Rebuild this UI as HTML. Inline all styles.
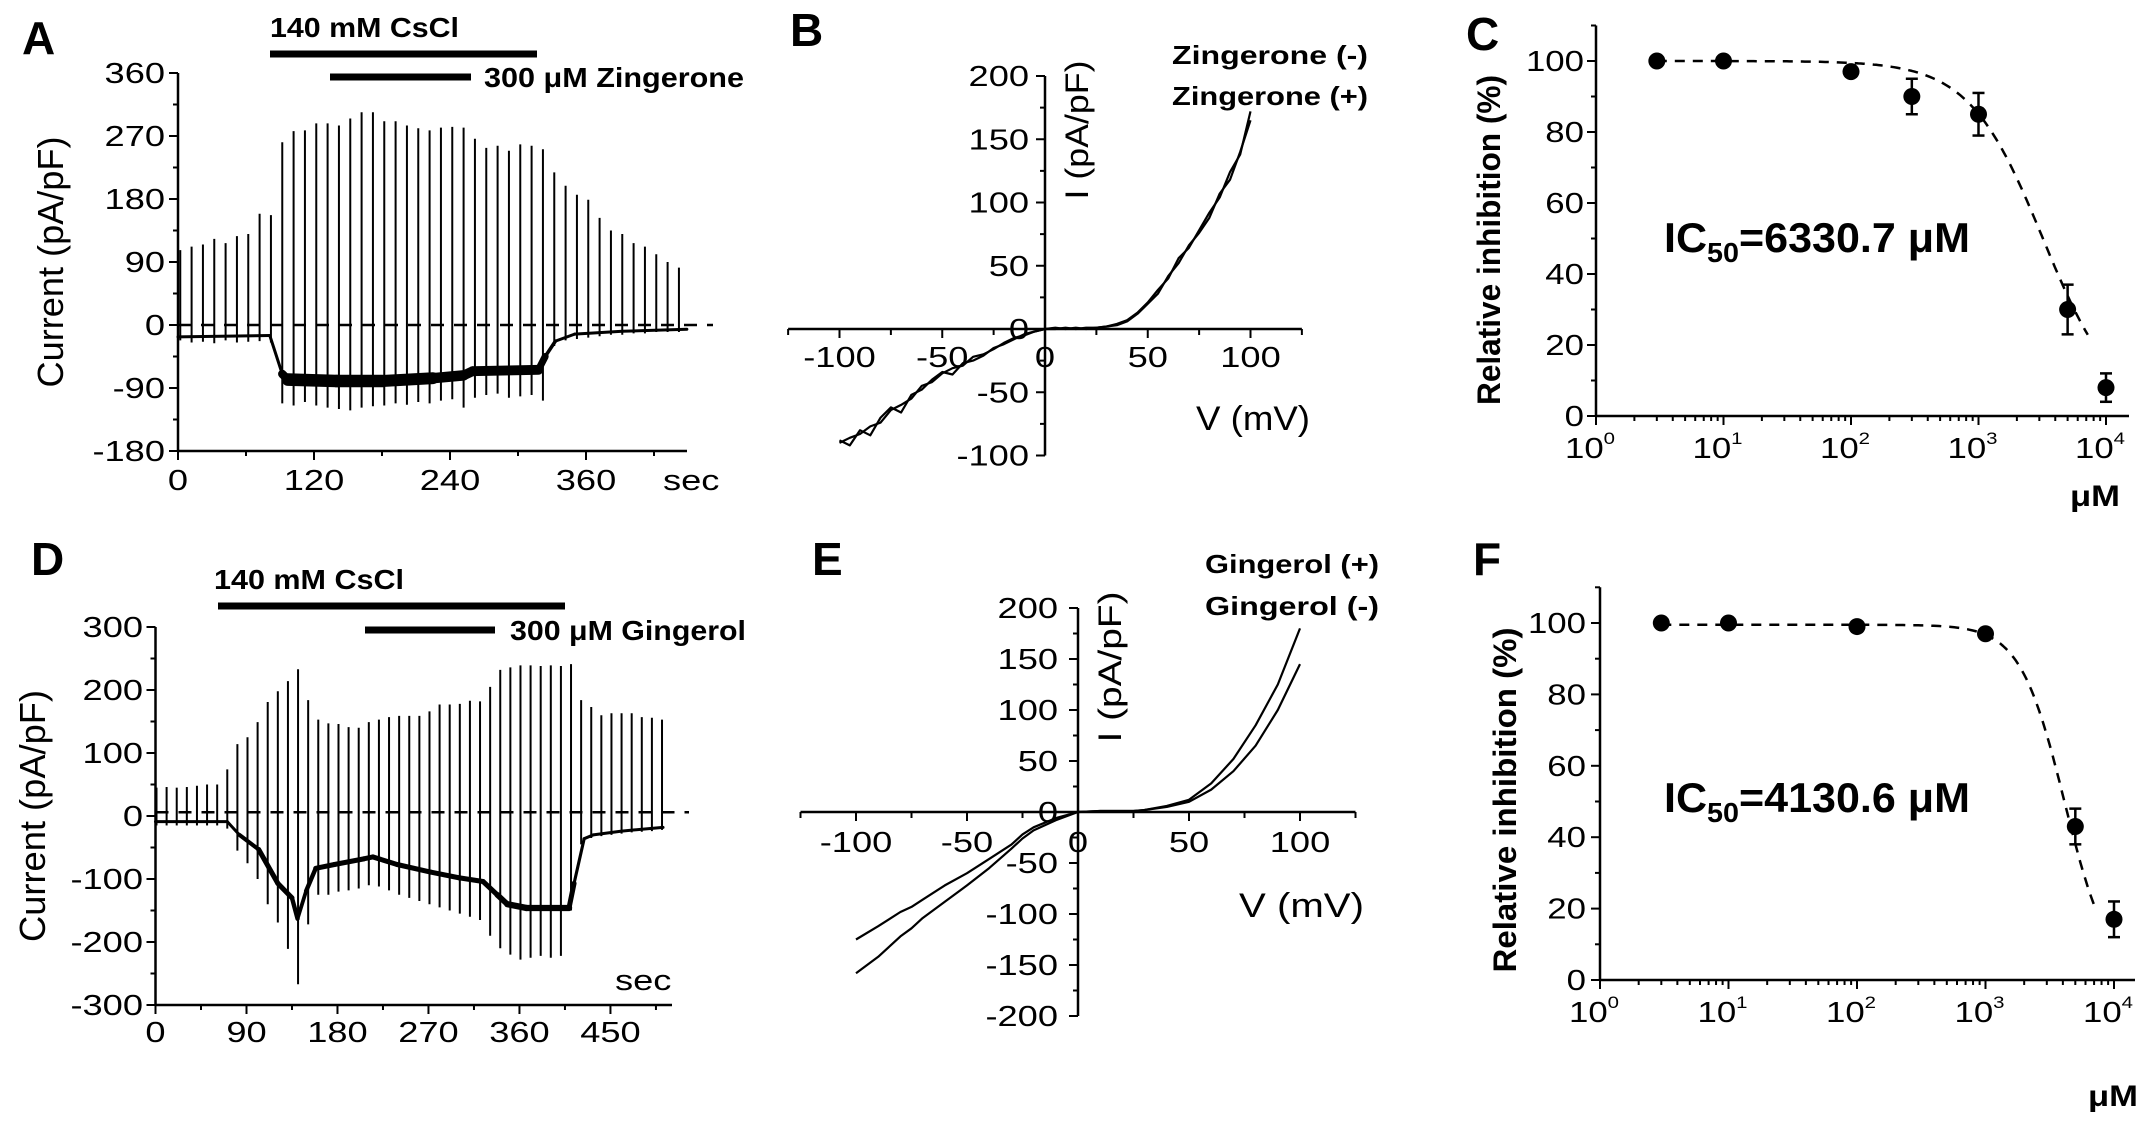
<!DOCTYPE html>
<html><head><meta charset="utf-8"><style>
html,body{margin:0;padding:0;background:#fff;}
svg{display:block;font-family:"Liberation Sans",Arial,sans-serif;}
</style></head><body>
<svg id="fig" width="2150" height="1125" viewBox="0 0 2150 1125" xmlns="http://www.w3.org/2000/svg"></svg>
<script>
// ---------- Panel A data ----------
const aSpikeTimes=[2,12,22,32,42,52,62,72,82,92,102,112,122,132,142,152,162,172,182,192,202,212,222,232,242,252,262,272,282,292,302,312,322,332,342,352,362,372,382,392,402,412,422,432,442];
const aSpikeMax=[107,112,115,123,117,127,130,159,157,261,277,278,288,288,285,295,304,304,291,291,285,281,278,282,283,282,266,253,256,249,258,256,251,218,199,186,179,153,135,130,117,112,101,90,82];
const aSpikeMin=[-22,-25,-24,-26,-22,-25,-24,-23,-25,-112,-115,-110,-115,-118,-120,-122,-118,-116,-115,-112,-114,-110,-112,-108,-106,-118,-104,-100,-98,-104,-102,-100,-108,-30,-22,-20,-18,-16,-14,-14,-12,-12,-10,-10,-10];
const aBaseT=[0,81,92,97,140,180,225,252,260,318,324,333,350,392,449];
const aBaseV=[-17,-15,-70,-78,-80,-80,-76,-72,-66,-64,-45,-23,-13,-9,-6];
const aBand=[2,2,6,18,18,18,16,14,14,14,6,4,2,2,2];
const aXTicks=[0,120,240,360];
const aYTicks=[360,270,180,90,0,-90,-180];
// ---------- Panel D data ----------
const dSpikeTimes=[1,11,21,31,41,51,61,71,81,91,101,111,121,131,141,151,161,171,181,191,201,211,221,231,241,251,261,271,281,291,301,311,321,331,341,351,361,371,381,391,401,411,421,431,441,451,461,471,481,491,501];
const dSpikeMax=[45,46,45,46,48,50,50,74,114,125,149,181,198,214,233,184,153,147,146,141,140,149,153,157,159,159,159,166,177,177,178,183,182,205,232,236,239,239,238,239,238,241,184,173,160,163,163,163,157,156,153];
const dSpikeMin=[-15,-15,-15,-15,-15,-15,-15,-20,-55,-75,-100,-140,-169,-211,-267,-172,-125,-125,-120,-118,-115,-110,-112,-118,-125,-130,-135,-140,-145,-150,-155,-160,-165,-190,-210,-220,-228,-225,-222,-225,-222,-150,-45,-35,-32,-30,-28,-26,-25,-24,-22];
const dBaseT=[0,71,83,102,121,135,140.5,149,158.5,177,206,215,239,272,300,324,338,348,367,409,414,424,433,461,502];
const dBaseV=[-9,-9,-30,-53,-107,-130,-163,-119,-83,-77,-68,-65,-77,-89,-98,-104,-125,-140,-146,-146,-107,-36,-30,-24,-18];
const dBand=[2,2,5,8,8,8,6,6,8,8,8,8,8,8,8,8,8,10,10,10,6,4,4,4,4];
const dXTicks=[0,90,180,270,360,450];
const dYTicks=[300,200,100,0,-100,-200,-300];
// ---------- Panel B data ----------
const bVolt=[-100,-95,-90,-85,-80,-75,-70,-65,-60,-55,-50,-45,-40,-35,-30,-25,-20,-15,-10,-5,0,5,10,15,20,25,30,35,40,45,50,55,60,65,70,75,80,85,90,95,100];
const bMinus=[-88,-92,-80,-84,-70,-62,-66,-52,-48,-40,-34,-36,-27,-25,-21,-15,-12,-8,-4,-2,0,0,1,0,1,1,2,3,6,12,20,28,42,52,66,76,88,107,118,140,165];
const bPlus=[-90,-86,-83,-77,-74,-64,-60,-55,-45,-42,-35,-31,-29,-22,-20,-16,-11,-7,-5,-2,0,1,0,1,0,1,2,4,7,13,21,31,40,56,64,78,92,104,124,138,172];
const bXTicks=[-100,-50,0,50,100];
const bYTicks=[200,150,100,50,0,-50,-100];
// ---------- Panel E data ----------
const eVolt=[-100,-90,-80,-75,-70,-60,-50,-40,-30,-25,-20,-10,0,10,20,25,30,40,50,60,70,80,90,100];
const ePlus=[-158,-142,-122,-114,-104,-88,-72,-55,-36,-26,-18,-8,0,1,1,1,2,6,12,28,52,85,125,180];
const eMinus=[-125,-112,-98,-93,-86,-72,-60,-46,-32,-22,-15,-6,0,1,1,1,2,5,10,22,40,65,100,145];
const eXTicks=[-100,-50,0,50,100];
const eYTicks=[200,150,100,50,0,-50,-100,-150,-200];
// ---------- Panel C data ----------
const cConc=[3,10,100,300,1000,5000,10000];
const cInhib=[100,100,97,90,85,30,8];
const cErr=[0,0,1,5,6,7,4];
const cFitIC50=3200, cFitHill=1.5, cFitTop=100;
// ---------- Panel F data ----------
const fConc=[3,10,100,1000,5000,10000];
const fInhib=[100,100,99,97,43,17];
const fErr=[0,0,0,1,5,5];
const fFitIC50=4130, fFitHill=2.5, fFitTop=99.5;
const logExps=[0,1,2,3,4];

const svg=document.getElementById('fig');
const NS='http://www.w3.org/2000/svg';
function add(tag,attrs,name,parent){
  const el=document.createElementNS(NS,tag);
  for(const k in attrs) el.setAttribute(k,attrs[k]);
  
  
  (parent||svg).appendChild(el);
  return el;
}
function line(x1,y1,x2,y2,w,name,extra){
  const a={x1:x1,y1:y1,x2:x2,y2:y2,stroke:'#000','stroke-width':w};
  if(extra) for(const k in extra) a[k]=extra[k];
  return add('line',a,name);
}
function txt(x,y,s,size,name,o){
  o=o||{};
  const a={'font-size':size,fill:'#000','text-anchor':o.anchor||'start'};
  if(o.bold) a['font-weight']='bold';
  let tr='translate('+x+','+y+')';
  if(o.rot) tr+=' rotate('+o.rot+')';
  if(o.sx) tr+=' scale('+o.sx+',1)';
  a.transform=tr; a.x=0; a.y=0;
  if(o.len){a.textLength=o.len;a.lengthAdjust='spacingAndGlyphs';}
  const t=add('text',a,name);
  t.textContent=s;
  return t;
}
function poly(pts,w,name,extra){
  const a={points:pts.map(p=>p[0].toFixed(1)+','+p[1].toFixed(1)).join(' '),fill:'none',stroke:'#000','stroke-width':w,'stroke-linejoin':'round'};
  if(extra) for(const k in extra) a[k]=extra[k];
  return add('polyline',a,name);
}

// ---------- generic trace panel ----------
function tracePanel(P){
  const X=P.x, Y=P.y;
  P.times.forEach((t,i)=>{
    line(X(t),Y(P.max[i]),X(t),Y(P.min[i]),2,'current-spike');
  });
  for(let i=0;i<P.bt.length-1;i++){
    const w=Math.max(3,(P.band[i]+P.band[i+1])/2*P.yscale);
    line(X(P.bt[i]),Y(P.bv[i]),X(P.bt[i+1]),Y(P.bv[i+1]),w,'baseline-current',{'stroke-linecap':'round'});
  }
  line(P.x0,Y(P.zeroV),P.dashEnd,Y(P.zeroV),2.5,'zero-line',{'stroke-dasharray':'13 10'});
  line(P.x0,Y(P.yMax),P.x0,Y(P.yMin)+1,2.5,'y-axis');
  line(P.x0-1,Y(P.yMin),P.xEnd,Y(P.yMin),2.5,'x-axis');
  P.yTicks.forEach(v=>{
    line(P.x0-9,Y(v),P.x0,Y(v),2,'y-tick');
    txt(P.ylabX,Y(v)+10,String(v),29,'y-tick-label',{anchor:'end',sx:1.25});
  });
  for(let i=0;i<P.yTicks.length-1;i++){
    const m=(P.yTicks[i]+P.yTicks[i+1])/2;
    line(P.x0-5,Y(m),P.x0,Y(m),2,'y-minor-tick');
  }
  P.xTicks.forEach(t=>{
    line(X(t),Y(P.yMin),X(t),Y(P.yMin)+9,2,'x-tick');
    txt(X(t),P.xlabY,String(t),29,'x-tick-label',{anchor:'middle',sx:1.25});
  });
  const step=P.xTicks[1]-P.xTicks[0];
  for(let t=step/2;X(t)<P.xEnd;t+=step) line(X(t),Y(P.yMin),X(t),Y(P.yMin)+5,2,'x-minor-tick');
}

// Panel A
tracePanel({x:t=>178+t*408/360,y:v=>325-v*252/360,yscale:252/360,times:aSpikeTimes,max:aSpikeMax,min:aSpikeMin,
  bt:aBaseT,bv:aBaseV,band:aBand,zeroV:0,x0:178,dashEnd:713,xEnd:687,yMax:360,yMin:-180,
  yTicks:aYTicks,xTicks:aXTicks,ylabX:165,xlabY:490});
txt(22,54,'A',46,'panel-label-a',{bold:true});
txt(663,490,'sec',29,'x-axis-unit',{sx:1.25});
txt(63,262,'Current (pA/pF)',36,'y-axis-title',{anchor:'middle',rot:-90,len:251});
line(270,54,537,54,7,'cscl-bar');
txt(270,37,'140 mM CsCl',28,'cscl-label',{bold:true,len:189});
line(330,77,471,77,7,'zingerone-bar');
txt(484,87,'300 μM Zingerone',28,'zingerone-label',{bold:true,len:260});

// Panel D
tracePanel({x:t=>155.5+t*1.011,y:v=>816-v*0.63,yscale:0.63,times:dSpikeTimes,max:dSpikeMax,min:dSpikeMin,
  bt:dBaseT,bv:dBaseV,band:dBand,zeroV:6,x0:155.5,dashEnd:689,xEnd:672,yMax:300,yMin:-300,
  yTicks:dYTicks,xTicks:dXTicks,ylabX:143,xlabY:1042});
txt(31,575,'D',46,'panel-label-d',{bold:true});
txt(615,990,'sec',29,'x-axis-unit',{sx:1.25});
txt(45,816,'Current (pA/pF)',36,'y-axis-title',{anchor:'middle',rot:-90,len:252});
line(218,606,565,606,7,'cscl-bar');
txt(214,589,'140 mM CsCl',28,'cscl-label',{bold:true,len:190});
line(365,630,495,630,7,'gingerol-bar');
txt(510,640,'300 μM Gingerol',28,'gingerol-label',{bold:true,len:236});

// ---------- IV panels ----------
function ivPanel(P){
  const X=P.x,Y=P.y;
  line(X(-125),Y(0),X(125),Y(0),2.5,'x-axis');
  line(X(0),Y(P.yMax),X(0),Y(P.yMin),2.5,'y-axis');
  for(let v=-125;v<=125;v+=25){
    const major=(v%50===0);
    line(X(v),Y(0),X(v),Y(0)+(major?9:6),2,major?'x-tick':'x-minor-tick');
  }
  P.xTicks.forEach(v=>txt(X(v),P.xlabY,String(v),29,'x-tick-label',{anchor:'middle',sx:1.25}));
  P.yTicks.forEach(v=>{
    line(X(0)-9,Y(v),X(0),Y(v),2,'y-tick');
    if(v!==P.yMin) line(X(0)-5,Y(v-25),X(0),Y(v-25),2,'y-minor-tick');
    txt(P.ylabX,Y(v)+10,String(v),29,'y-tick-label',{anchor:'end',sx:1.25});
  });
  P.series.forEach((s,k)=>poly(P.volt.map((v,i)=>[X(v),Y(s[i])]),2.2,P.names[k]));
}
ivPanel({x:v=>1045+v*2.055,y:i=>329-i*1.265,yMax:200,yMin:-100,xTicks:bXTicks,yTicks:bYTicks,xlabY:367,ylabX:1029,
  volt:bVolt,series:[bMinus,bPlus],names:['trace-zingerone-minus','trace-zingerone-plus']});
txt(790,46,'B',46,'panel-label-b',{bold:true});
txt(1088,130,'I (pA/pF)',32,'y-axis-title',{anchor:'middle',rot:-90,len:139});
txt(1196,430,'V (mV)',34,'x-axis-title',{len:114});
txt(1172,64,'Zingerone (-)',26,'legend-zingerone-minus',{bold:true,len:196});
txt(1172,105,'Zingerone (+)',26,'legend-zingerone-plus',{bold:true,len:196});

ivPanel({x:v=>1078+v*2.22,y:i=>812-i*1.02,yMax:200,yMin:-200,xTicks:eXTicks,yTicks:eYTicks,xlabY:852,ylabX:1058,
  volt:eVolt,series:[ePlus,eMinus],names:['trace-gingerol-plus','trace-gingerol-minus']});
txt(812,575,'E',46,'panel-label-e',{bold:true});
txt(1121,667,'I (pA/pF)',32,'y-axis-title',{anchor:'middle',rot:-90,len:151});
txt(1239,917,'V (mV)',34,'x-axis-title',{len:125});
txt(1205,573,'Gingerol (+)',26,'legend-gingerol-plus',{bold:true,len:174});
txt(1205,615,'Gingerol (-)',26,'legend-gingerol-minus',{bold:true,len:174});

// ---------- dose response panels ----------
function drPanel(P){
  const X=P.x,Y=P.y;
  line(X(1)-1,Y(0),P.xEnd,Y(0),2.5,'x-axis');
  line(X(1),Y(0)+1,X(1),Y(110),2.5,'y-axis');
  logExps.forEach(e=>{
    const c=Math.pow(10,e);
    line(X(c),Y(0),X(c),Y(0)+9,2,'x-tick');
    const t=txt(X(c)-6,P.xlabY,'10',29,'x-tick-label',{anchor:'middle',sx:1.2});
    const sup=document.createElementNS(NS,'tspan');
    
    
    sup.setAttribute('font-size','17');
    sup.setAttribute('dy','-14');
    sup.textContent=String(e);
    t.appendChild(sup);
    if(e<4) for(let m=2;m<=9;m++) line(X(m*c),Y(0),X(m*c),Y(0)+5,2,'x-minor-tick');
  });
  for(let v=0;v<=100;v+=20){
    line(X(1)-9,Y(v),X(1),Y(v),2,'y-tick');
    line(X(1)-5,Y(v+10),X(1),Y(v+10),2,'y-minor-tick');
    txt(P.ylabX,Y(v)+10,String(v),29,'y-tick-label',{anchor:'end',sx:1.2});
  }
  const pts=[];
  for(let lg=Math.log10(P.conc[0]);lg<=Math.log10(P.fitEnd);lg+=0.02){
    const c=Math.pow(10,lg);
    pts.push([X(c),Y(P.top/(1+Math.pow(c/P.ic50,P.hill)))]);
  }
  poly(pts,2.5,'fit-curve',{'stroke-dasharray':'10 8'});
  P.conc.forEach((c,i)=>{
    if(P.err[i]>0){
      line(X(c),Y(P.val[i]-P.err[i]),X(c),Y(P.val[i]+P.err[i]),2.5,'error-bar');
      line(X(c)-6,Y(P.val[i]+P.err[i]),X(c)+6,Y(P.val[i]+P.err[i]),2.5,'error-cap');
      line(X(c)-6,Y(P.val[i]-P.err[i]),X(c)+6,Y(P.val[i]-P.err[i]),2.5,'error-cap');
    }
    add('circle',{cx:X(c),cy:Y(P.val[i]),r:8.5,fill:'#000'},'data-point');
  });
}
drPanel({x:c=>1596+Math.log10(c)*127.5,y:p=>416-p*3.55,xEnd:2129,xlabY:458,ylabX:1584,
  conc:cConc,val:cInhib,err:cErr,ic50:cFitIC50,hill:cFitHill,top:cFitTop,fitEnd:7300});
txt(1466,50,'C',46,'panel-label-c',{bold:true});
txt(1500,240,'Relative inhibition (%)',32,'y-axis-title',{anchor:'middle',rot:-90,bold:true,len:330});
txt(2070,506,'μM',30,'x-axis-title',{bold:true,len:50});
(function(){
  const t=txt(1664,252,'IC',42,'ic50-annotation',{bold:true});
  const s=document.createElementNS(NS,'tspan');
  
  s.setAttribute('font-size','28');s.setAttribute('dy','10');s.textContent='50';t.appendChild(s);
  const r=document.createElementNS(NS,'tspan');
  
  r.setAttribute('dy','-10');r.textContent='=6330.7 μM';t.appendChild(r);
  t.setAttribute('textLength','306');t.setAttribute('lengthAdjust','spacingAndGlyphs');
})();

drPanel({x:c=>1600+Math.log10(c)*128.5,y:p=>980-p*3.57,xEnd:2135,xlabY:1022,ylabX:1586,
  conc:fConc,val:fInhib,err:fErr,ic50:fFitIC50,hill:fFitHill,top:fFitTop,fitEnd:7500});
txt(1473,575,'F',46,'panel-label-f',{bold:true});
txt(1516,800,'Relative inhibition (%)',32,'y-axis-title',{anchor:'middle',rot:-90,bold:true,len:345});
txt(2088,1106,'μM',30,'x-axis-title',{bold:true,len:50});
(function(){
  const t=txt(1664,812,'IC',42,'ic50-annotation',{bold:true});
  const s=document.createElementNS(NS,'tspan');
  
  s.setAttribute('font-size','28');s.setAttribute('dy','10');s.textContent='50';t.appendChild(s);
  const r=document.createElementNS(NS,'tspan');
  
  r.setAttribute('dy','-10');r.textContent='=4130.6 μM';t.appendChild(r);
  t.setAttribute('textLength','306');t.setAttribute('lengthAdjust','spacingAndGlyphs');
})();
</script>
</body></html>
